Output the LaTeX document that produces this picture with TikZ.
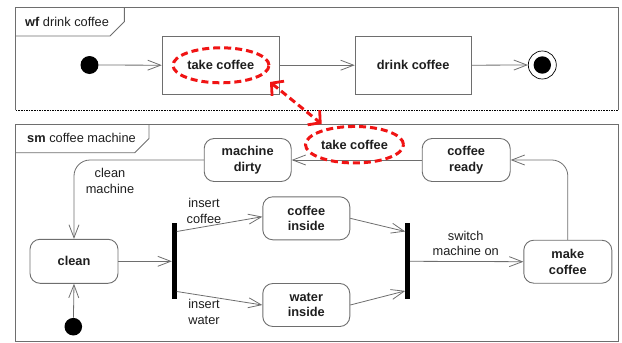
\documentclass[tikz,border=0pt]{standalone}
\usepackage{fontspec}
\setmainfont{Liberation Sans}
\usetikzlibrary{arrows.meta,shapes.geometric,calc}
\definecolor{lgray}{RGB}{110,110,110}
\definecolor{txt}{RGB}{30,30,30}
\definecolor{ured}{RGB}{240,20,20}
\begin{document}
\begin{tikzpicture}[x=1pt,y=-1pt,
  every node/.style={text=txt,font=\fontsize{12.8}{15.5}\selectfont},
  frameline/.style={draw=lgray,line width=0.9pt},
  actbox/.style={draw=lgray,line width=0.9pt,rectangle,minimum width=117pt,minimum height=58pt,font=\fontsize{12.8}{15.5}\selectfont\bfseries},
  stbox/.style={draw=lgray,line width=0.9pt,rectangle,rounded corners=10pt,minimum width=87pt,minimum height=43pt,align=center,font=\fontsize{12.8}{15.5}\selectfont\bfseries},
  tr/.style={draw=lgray,line width=0.8pt,-{Straight Barb[length=13pt,width=10pt,line width=0.8pt]}},
  lbl/.style={align=center,inner sep=0pt},
  bar/.style={fill=black,draw=none,rectangle,minimum width=4.5pt,minimum height=76pt,inner sep=0pt},
  dot/.style={circle,fill=black,draw=none,minimum size=18pt,inner sep=0pt},
  redell/.style={ellipse,draw=ured,line width=3pt,dash pattern=on 7pt off 4pt,inner sep=0pt},
  redarrow/.style={draw=ured,line width=3pt,dash pattern=on 7pt off 4pt,
    {Straight Barb[length=8.5pt,width=19pt,line width=2.8pt]}-{Straight Barb[length=8.5pt,width=19pt,line width=2.8pt]}}
]
\useasboundingbox (0,0) rectangle (622,343);

% ---------- wf frame ----------
\draw[frameline] (15.7,110) -- (15.7,7.3) -- (618,7.3) -- (618,110);
\draw[black,line width=0.7pt,dash pattern=on 1.6pt off 1pt] (15.7,110) -- (618,110);
\draw[frameline] (124.3,7.3) -- (124.3,21.7) -- (110,36) -- (15.7,36);
\node[anchor=west,inner sep=0pt] (wflabel) at (25,21.5) {\textbf{wf} drink coffee};

\node[dot] (wfinit) at (89.5,65) {};
\node[actbox] (tc) at (220.7,65.2) {take coffee};
\node[redell,minimum width=96pt,minimum height=35pt] (tce) at (221,65.3) {};
\node[actbox,minimum width=116pt] (dc) at (413.2,65.2) {drink coffee};
\node[circle,draw=black,line width=0.7pt,minimum size=28pt,inner sep=0pt] (fin) at (542.3,65) {};
\node[circle,fill=black,minimum size=17.4pt,inner sep=0pt] (finin) at (fin.center) {};

\draw[tr] (wfinit) -- (tc.west);
\draw[tr] (tc.east) -- (dc.west);
\draw[tr] (dc.east) -- (fin.west);

% ---------- sm frame ----------
\draw[frameline] (15.7,124.3) rectangle (618,341);
\draw[frameline] (149,124.3) -- (149,138.5) -- (134.7,152.7) -- (15.7,152.7);
\node[anchor=west,inner sep=0pt] (smlabel) at (27,137.5) {\textbf{sm} coffee machine};

\node[stbox] (md) at (247.7,160) {machine\\dirty};
\node[stbox,minimum width=88pt] (cr) at (466.2,160) {coffee\\ready};
\node[stbox,minimum width=88pt] (mc) at (567.8,261.7) {make\\coffee};
\node[stbox,minimum width=88pt,minimum height=44pt] (cl) at (74,261.3) {clean};
\node[stbox] (ci) at (306.3,218.3) {coffee\\inside};
\node[stbox] (wi) at (306.3,305) {water\\inside};
\node[bar] (fork) at (174.3,261.3) {};
\node[bar] (join) at (407.7,261.3) {};
\node[dot,minimum size=17.6pt] (sminit) at (73.3,326.7) {};

% transitions
\draw[tr] (cr.west) -- (md.east);
\node[redell,minimum width=98pt,minimum height=36.5pt,font=\fontsize{12.8}{15.5}\selectfont\bfseries] (tc2) at (354.5,144.7) {take coffee};

\draw[tr,rounded corners=16pt] (md.west) -| (cl.north);
\node[lbl] (lclean) at (110,181) {clean\\machine};

\draw[tr] (cl.east) -- (fork.west);
\draw[tr] ([yshift=-8.4pt]fork.north east) -- ([yshift=1.6pt]ci.west);
\draw[tr] ([yshift=8pt]fork.south east) -- (wi.west);
\node[lbl] (lic) at (204,210.8) {insert\\coffee};
\node[lbl] (liw) at (204,312) {insert\\water};

\draw[tr] (ci.east) -- ([yshift=-8.4pt]join.north west);
\draw[tr] (wi.east) -- ([yshift=8.6pt]join.south west);
\draw[tr] (join.east) -- (mc.west);
\node[lbl] (lsw) at (465.7,243.2) {switch\\machine on};

\draw[tr,rounded corners=16pt] (mc.north) |- (cr.east);
\draw[tr] (sminit) -- (cl.south);

% red dashed link
\coordinate (ra) at (270,82);
\coordinate (rb) at (321.7,124);
\draw[redarrow] (ra) -- (rb);
\end{tikzpicture}
\end{document}
